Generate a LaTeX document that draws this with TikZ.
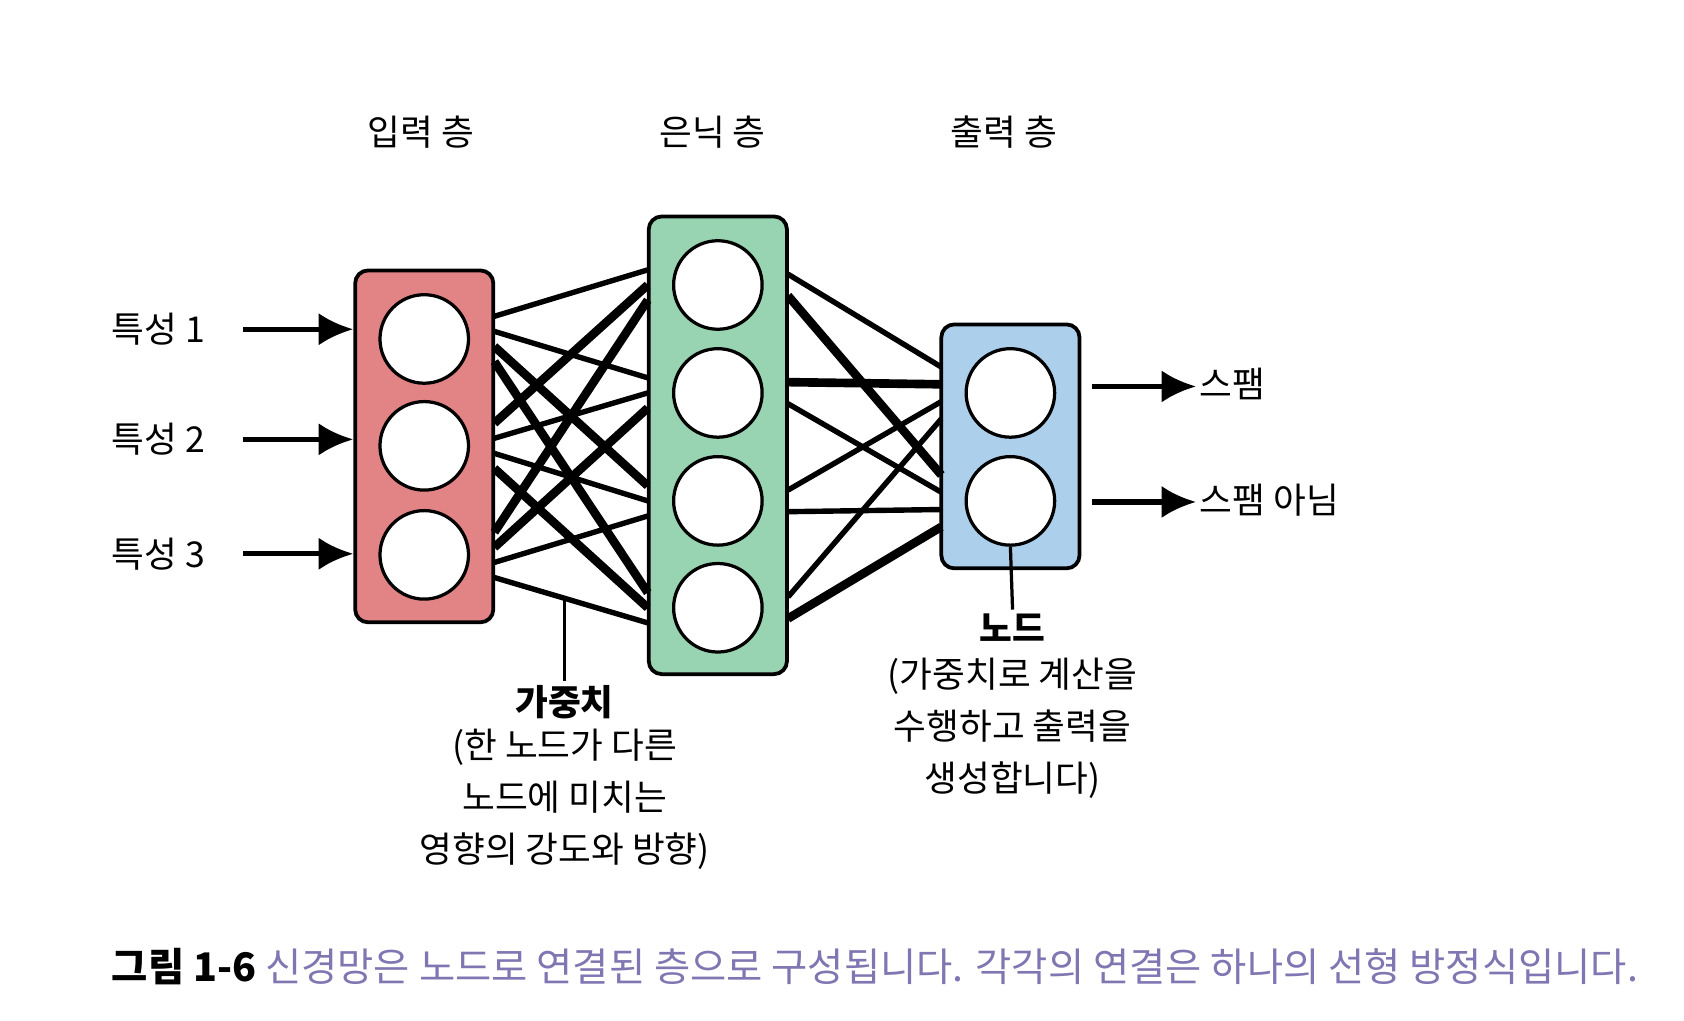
\documentclass[tikz,border=0pt]{standalone}
\usepackage{fontspec}
\setmainfont{Noto Sans CJK KR}
\usetikzlibrary{calc}
\definecolor{inred}{RGB}{226,132,134}
\definecolor{hidgreen}{RGB}{152,212,178}
\definecolor{outblue}{RGB}{172,207,236}
\definecolor{capgray}{RGB}{128,118,178}
\tikzset{
  layer/.style={draw=black,line width=3.5pt,rounded corners=12pt,minimum width=128pt},
  unit/.style={circle,draw=black,fill=white,line width=3pt,minimum size=82pt},
  lbl/.style={font=\fontsize{33}{48}\selectfont},
  feed/.style={line width=5pt,-{Latex[length=32pt,width=30pt]}}
}
\usetikzlibrary{arrows.meta}
\begin{document}
\begin{tikzpicture}[x=1pt,y=-1pt]
\useasboundingbox (0,0) rectangle (1560,945);
% boxes
\node[layer,fill=inred,minimum height=326pt] (inbox) at (393,413.5) {};
\node[layer,fill=hidgreen,minimum height=424pt] (hidbox) at (665,412.5) {};
\node[layer,fill=outblue,minimum height=226pt] (outbox) at (936,413.5) {};
% weights
\foreach \i/\yi in {1/314,2/413,3/514}
  \foreach \j/\yj in {1/264,2/364,3/464,4/563}{
    \pgfmathsetmacro{\w}{mod(\i*3+\j*5,4)<2 ? 5 : 8}
    \draw[line width=\w pt] (458,\yi+\j*14-35) -- (600,\yj+\i*14-28);
  }
\foreach \j/\yj in {1/264,2/364,3/464,4/563}
  \foreach \k/\yk in {1/364,2/464}{
    \pgfmathsetmacro{\w}{mod(\j+\k,3)==0 ? 8 : 5}
    \draw[line width=\w pt] (730,\yj+\k*20-30) -- (872,\yk+\j*16-40);
  }
\foreach \n/\y in {1/314,2/413,3/514}
  \node[unit] (in\n) at (393,\y) {};
\foreach \n/\y in {1/264,2/364,3/464,4/563}
  \node[unit] (hid\n) at (665,\y) {};
\foreach \n/\y in {1/364,2/464}
  \node[unit] (out\n) at (936,\y) {};
% layer titles
\node[lbl] (tin) at (390,122) {입력 층};
\node[lbl] (thid) at (660,122) {은닉 층};
\node[lbl] (tout) at (930,122) {출력 층};
% inputs
\foreach \n/\y in {1/305,2/407,3/513}{
  \node[lbl,anchor=west] (f\n) at (100,\y) {특성 \n};
  \coordinate (fs\n) at (225,\y);
  \draw[feed] (fs\n) -- (inbox.west |- fs\n);
}
% outputs
\coordinate (o1) at (1012,358);
\coordinate (o2) at (1012,465);
\node[lbl,anchor=west] (spam) at (1108,356) {스팸};
\node[lbl,anchor=west] (ham) at (1108,463) {스팸 아님};
\draw[feed] (o1) -- (spam.west |- o1);
\draw[feed] (o2) -- (ham.west |- o2);
% callouts
\coordinate (wtop) at (523,553);
\node[lbl,font=\fontsize{33}{48}\selectfont\bfseries] (wt) at (523,650) {가중치};
\node[lbl,align=center,anchor=north] (wdesc) at (523,672) {(한 노드가 다른\\노드에 미치는\\영향의 강도와 방향)};
\draw[line width=3pt] (wtop) -- (wt.north);
\node[lbl,font=\fontsize{33}{48}\selectfont\bfseries] (nd) at (938,581) {노드};
\node[lbl,align=center,anchor=north] (ndesc) at (938,606) {(가중치로 계산을\\수행하고 출력을\\생성합니다)};
\draw[line width=3pt] (out2.south) -- (nd.north);
% caption
\node[anchor=west,font=\fontsize{36.5}{40}\selectfont] (cap) at (100,895) {\textbf{그림 1-6} \textcolor{capgray}{신경망은 노드로 연결된 층으로 구성됩니다. 각각의 연결은 하나의 선형 방정식입니다.}};
\end{tikzpicture}
\end{document}
